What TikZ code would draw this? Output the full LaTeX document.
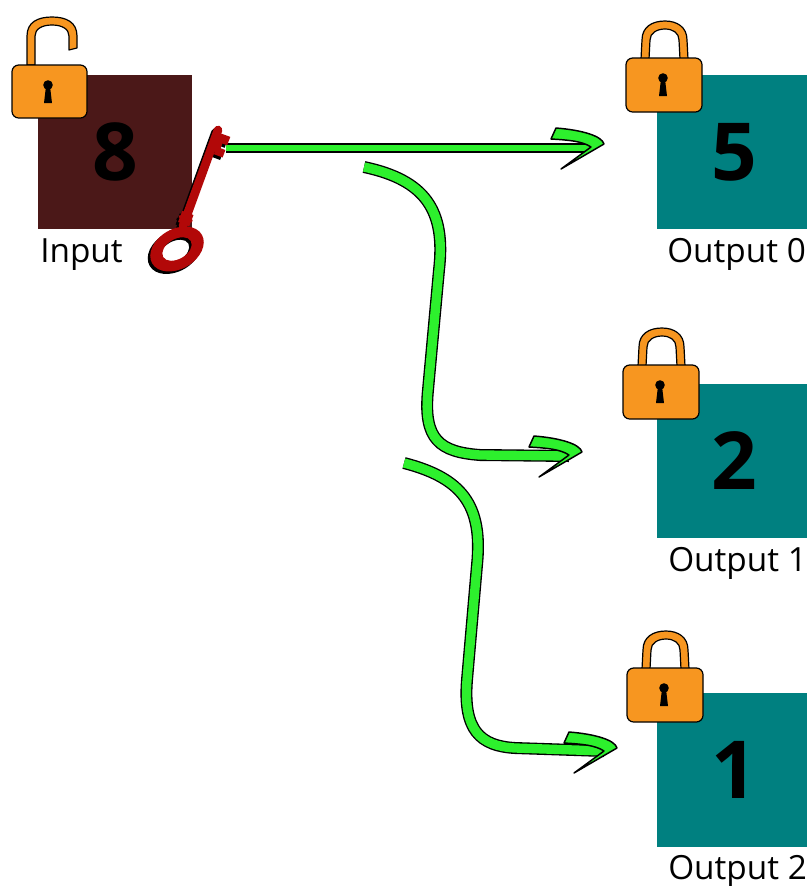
\documentclass[tikz,border=0pt]{standalone}
\usepackage{fontspec}
\setmainfont{Open Sans}
\definecolor{lockorange}{RGB}{247,150,32}
\definecolor{inbox}{RGB}{75,24,24}
\definecolor{outbox}{RGB}{0,128,128}
\definecolor{arrowgreen}{RGB}{45,240,45}
\definecolor{keyred}{RGB}{178,8,8}
\begin{document}
\begin{tikzpicture}[x=0.75pt,y=-0.75pt,
  valuebox/.style={minimum width=115.5pt, minimum height=115.5pt, inner sep=0pt, outer sep=0pt,
    font=\bfseries\fontsize{60}{60}\selectfont, text=black},
  caption/.style={inner sep=0pt, font=\fontsize{25}{25}\selectfont, anchor=base west},
  ribbon/.style={draw=black, line width=1pt, double=arrowgreen, double distance=#1},
  ribbon/.default=7pt,
  lockpart/.style={fill=lockorange, draw=black, line width=0.9pt, line join=round},
  % arrow head: a bent green hook, tip at the origin
  chevron/.pic={
    \filldraw[fill=arrowgreen, draw=black, line width=1.1pt, line join=round]
      (-48,-16) .. controls (-22,-14) and (-2,-8) .. (0,0) -- (-43,25) -- (-13,3)
      .. controls (-22,-3) and (-36,-4) .. (-53,-5) -- cycle;
  },
  % closed padlock, origin at the centre of its body
  padlock/.pic={
    \path[lockpart] (-23,-26) -- (-22,-45) .. controls (-22,-58) and (-12,-64) .. (1,-64)
      .. controls (13,-64) and (23,-58) .. (23,-45) -- (24,-26) -- (16,-26) -- (15,-45)
      .. controls (15,-52) and (9,-56) .. (1,-56) .. controls (-7,-56) and (-14,-52) .. (-14,-45)
      -- (-15,-26) -- cycle;
    \path[lockpart, rounded corners=5pt] (-38,-27) rectangle (38,27);
    \fill (-1,-7) circle[radius=3.6pt];
    \fill (-3,-6) -- (1,-6) -- (3,11) -- (-5,11) -- cycle;
  },
  % open padlock: shackle lifted, right leg free
  openpadlock/.pic={
    \path[lockpart] (-23,-26) -- (-23,-55) .. controls (-23,-69) and (-12,-74) .. (2,-74)
      .. controls (16,-74) and (27,-69) .. (27,-55) -- (27,-43) -- (19,-41) -- (19,-55)
      .. controls (19,-62) and (12,-66) .. (2,-66) .. controls (-8,-66) and (-15,-62) .. (-15,-55)
      -- (-15,-26) -- cycle;
    \path[lockpart, rounded corners=5pt] (-38,-26) rectangle (37,27);
    \fill (-2,-6) circle[radius=3.6pt];
    \fill (-4,-5) -- (0,-5) -- (2,12) -- (-6,12) -- cycle;
  },
  % old-fashioned key, drawn in one colour
  oldkey/.pic={
    \draw[#1, line width=6.5pt, line cap=round] (183,226) -- (218,130);
    \draw[#1, line width=5pt] (180,236) -- (184,223);
    \draw[#1, line width=9pt] (183.7,224.1) -- (187.9,212.9);
    \draw[#1, line width=10.5pt] (185.3,219.9) -- (186.2,217.5);
    \fill[#1] (214.1,154.3) -- (222.6,157.5) -- (225.4,150.0) -- (220.7,148.2)
      -- (222.4,143.5) -- (227.1,145.3) -- (230.3,136.9) -- (216.9,132.0) -- cycle;
    \fill[#1, even odd rule, shift={(177,249)}, rotate=30]
      (0,0) ellipse [x radius=21.5pt, y radius=15pt]
      (0,0) ellipse [x radius=12pt, y radius=7.5pt];
  },
]
\useasboundingbox (0,0) rectangle (807,886);

% value boxes
\node[valuebox, fill=inbox]  (in)   at (115,152) {8};
\node[valuebox, fill=outbox] (out0) at (734,152) {5};
\node[valuebox, fill=outbox] (out1) at (734,461) {2};
\node[valuebox, fill=outbox] (out2) at (734,770) {1};

% captions
\node[caption] (inlabel)   at (40,262)  {Input};
\node[caption] (out0label) at (667,262) {Output 0};
\node[caption] (out1label) at (668,571) {Output 1};
\node[caption] (out2label) at (668,879) {Output 2};

% green ribbons
\coordinate (r0s) at (226,148);
\coordinate (r0e) at (590,148);
\coordinate (r1s) at (364,167);
\coordinate (r1e) at (569,456);
\coordinate (r2s) at (404,463);
\coordinate (r2e) at (604,751);
\draw[ribbon=5pt] (r0s) -- (r0e);
\draw[ribbon] (r1s) .. controls (425,180) and (446,210) .. (439,270) -- (428,390)
  .. controls (423,440) and (440,452) .. (480,455) -- (r1e);
\draw[ribbon] (r2s) .. controls (462,478) and (483,505) .. (477,565) -- (467,680)
  .. controls (463,730) and (480,746) .. (515,748) -- (r2e);
\pic (h0) at (604,144) {chevron};
\pic (h1) at (582,452) {chevron};
\pic (h2) at (617,748) {chevron};

% padlocks
\pic (lockin) at (50,91)  {openpadlock};
\pic (lock0)  at (664,85)  {padlock};
\pic (lock1)  at (661,392) {padlock};
\pic (lock2)  at (665,695) {padlock};

% key with its dark shadow
\pic (keyshadow) at (-2.5,2.5) {oldkey=black};
\pic (key) at (0,0) {oldkey=keyred};
\end{tikzpicture}
\end{document}
